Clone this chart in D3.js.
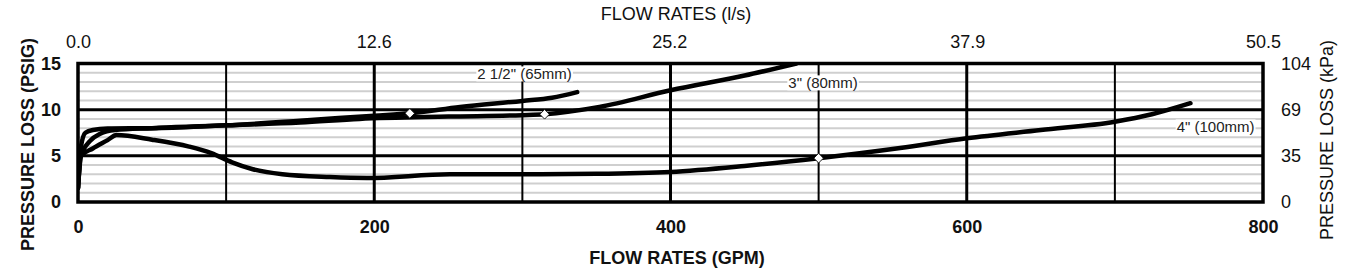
<!DOCTYPE html>
<html><head><meta charset="utf-8">
<script src="https://cdn.jsdelivr.net/npm/d3@7"></script>
<style>body{margin:0;background:#fff}svg{display:block;font-family:Arial,"Liberation Sans",sans-serif}</style>
</head><body><svg id="c" width="1350" height="278"></svg>
<script>
// ---- data ----
const gpmTicks = [0, 200, 400, 600, 800];
const lpsTicks = [0.0, 12.6, 25.2, 37.9, 50.5];
const psiTicks = [0, 5, 10, 15];
const kpaLabels = ["0", "35", "69", "104"];

const flow65 = [0, 2, 8, 15, 25, 50, 100, 150, 200, 224, 258, 300, 320, 337];
const loss65 = [1.5, 5.0, 6.6, 7.4, 7.8, 8.0, 8.3, 8.8, 9.35, 9.6, 10.3, 10.95, 11.3, 11.9];

const flow80 = [0, 2, 5, 10, 20, 50, 100, 150, 190, 250, 300, 315, 352, 400, 450, 485];
const loss80 = [1.5, 6.0, 7.5, 7.8, 7.95, 8.0, 8.3, 8.6, 9.0, 9.25, 9.4, 9.5, 10.3, 12.1, 13.7, 15.0];

const flow100 = [0, 2, 10, 20, 26, 50, 75, 90, 104, 118, 138, 170, 195, 251, 300, 350, 400, 450, 500, 555, 600, 650, 700, 725, 751];
const loss100 = [1.5, 5.0, 5.8, 6.7, 7.25, 6.75, 6.0, 5.3, 4.3, 3.55, 3.0, 2.7, 2.6, 3.0, 3.0, 3.05, 3.25, 3.9, 4.75, 5.85, 6.9, 7.8, 8.7, 9.5, 10.7];

const markerFlow = [224, 315, 500];
const markerLoss = [9.6, 9.5, 4.75];

const labelText = ['2 1/2" (65mm)', '3" (80mm)', '4" (100mm)'];
const labelFlow = [301.5, 503, 768];
const labelPsi = [13.86, 12.89, 8.12];

// ---- layout ----
const X0 = 78, X1 = 1263, Y0 = 63.5, Y1 = 202;
const svg = d3.select("#c");
const x = d3.scaleLinear().domain([0, 800]).range([X0, X1]);
const xl = d3.scaleLinear().domain([0, 50.5]).range([X0, X1]);
const y = d3.scaleLinear().domain([0, 15]).range([Y1, Y0]);

// minor horizontal grid
svg.append("g").selectAll("line").data(d3.range(1, 15).filter(d => d % 5 !== 0)).join("line")
  .attr("x1", X0).attr("x2", X1).attr("y1", d => y(d)).attr("y2", d => y(d))
  .attr("stroke", "#cfcfcf").attr("stroke-width", 2);

// major horizontal grid
svg.append("g").selectAll("line").data([5, 10]).join("line")
  .attr("x1", X0).attr("x2", X1).attr("y1", d => y(d)).attr("y2", d => y(d))
  .attr("stroke", "#000").attr("stroke-width", 3);

// vertical grid
svg.append("g").selectAll("line").data(d3.range(100, 800, 100)).join("line")
  .attr("x1", d => x(d)).attr("x2", d => x(d)).attr("y1", Y0).attr("y2", Y1)
  .attr("stroke", "#000").attr("stroke-width", d => d % 200 === 0 ? 3 : 2);

// labels with white background
const lg = svg.append("g");
labelText.forEach((t, i) => {
  const g = lg.append("g");
  const tx = g.append("text").attr("x", x(labelFlow[i])).attr("y", y(labelPsi[i]))
    .attr("dy", "0.36em").attr("text-anchor", "middle").attr("font-size", 15).attr("fill", "#222").text(t);
  const bb = tx.node().getBBox();
  g.insert("rect", "text").attr("x", bb.x - 1).attr("y", bb.y + 1).attr("width", bb.width + 2).attr("height", bb.height - 2).attr("fill", "#fff");
});

// curves
svg.append("clipPath").attr("id", "clip").append("rect").attr("x", X0).attr("y", Y0).attr("width", X1 - X0).attr("height", Y1 - Y0);
const line = d3.line().x(d => x(d[0])).y(d => y(d[1])).curve(d3.curveMonotoneX);
const series = [[flow65, loss65], [flow80, loss80], [flow100, loss100]];
svg.append("g").attr("clip-path", "url(#clip)").selectAll("path").data(series).join("path")
  .attr("d", s => line(s[0].map((f, i) => [f, s[1][i]])))
  .attr("fill", "none").attr("stroke", "#000").attr("stroke-width", 4.5)
  .attr("stroke-linecap", "round").attr("stroke-linejoin", "round");

// markers (square diamonds)
svg.append("g").selectAll("path").data(markerFlow).join("path")
  .attr("transform", (d, i) => `translate(${x(d)},${y(markerLoss[i])}) rotate(45)`)
  .attr("d", d3.symbol().type(d3.symbolSquare).size(46))
  .attr("fill", "#fff").attr("stroke", "#000").attr("stroke-width", 0.8);

// frame
svg.append("rect").attr("x", X0).attr("y", Y0).attr("width", X1 - X0).attr("height", Y1 - Y0)
  .attr("fill", "none").attr("stroke", "#000").attr("stroke-width", 3.5);

// axes
const styleAx = (g, bold) => {
  g.select(".domain").remove();
  g.selectAll("line").remove();
  g.selectAll("text").attr("font-size", 18).attr("font-family", "Arial, 'Liberation Sans', sans-serif")
    .attr("font-weight", bold ? "bold" : "normal").attr("fill", "#111");
};
svg.append("g").attr("transform", `translate(0,${Y1})`)
  .call(d3.axisBottom(x).tickValues(gpmTicks).tickSize(0).tickPadding(18)).call(g => styleAx(g, true));
svg.append("g").attr("transform", `translate(0,${Y0})`)
  .call(d3.axisTop(xl).tickValues(lpsTicks).tickFormat(d3.format(".1f")).tickSize(0).tickPadding(16)).call(g => styleAx(g, false));
svg.append("g").attr("transform", `translate(${X0},0)`)
  .call(d3.axisLeft(y).tickValues(psiTicks).tickSize(0).tickPadding(17)).call(g => styleAx(g, true));
svg.append("g").attr("transform", `translate(${X1},0)`)
  .call(d3.axisRight(y).tickValues(psiTicks).tickFormat((d, i) => kpaLabels[i]).tickSize(0).tickPadding(18)).call(g => styleAx(g, false));

// titles
svg.append("text").attr("x", 676).attr("y", 19.7).attr("text-anchor", "middle").attr("font-size", 18).attr("fill", "#111").text("FLOW RATES (l/s)");
svg.append("text").attr("x", 677).attr("y", 263.5).attr("text-anchor", "middle").attr("font-size", 18).attr("font-weight", "bold").attr("fill", "#111").text("FLOW RATES (GPM)");
svg.append("text").attr("transform", "translate(28,144.5) rotate(-90)").attr("dy", "0.36em").attr("text-anchor", "middle")
  .attr("font-size", 18).attr("font-weight", "bold").attr("fill", "#111").text("PRESSURE LOSS (PSIG)");
svg.append("text").attr("transform", "translate(1327,140) rotate(-90)").attr("dy", "0.36em").attr("text-anchor", "middle")
  .attr("font-size", 18).attr("fill", "#111").text("PRESSURE LOSS (kPa)");
</script></body></html>
